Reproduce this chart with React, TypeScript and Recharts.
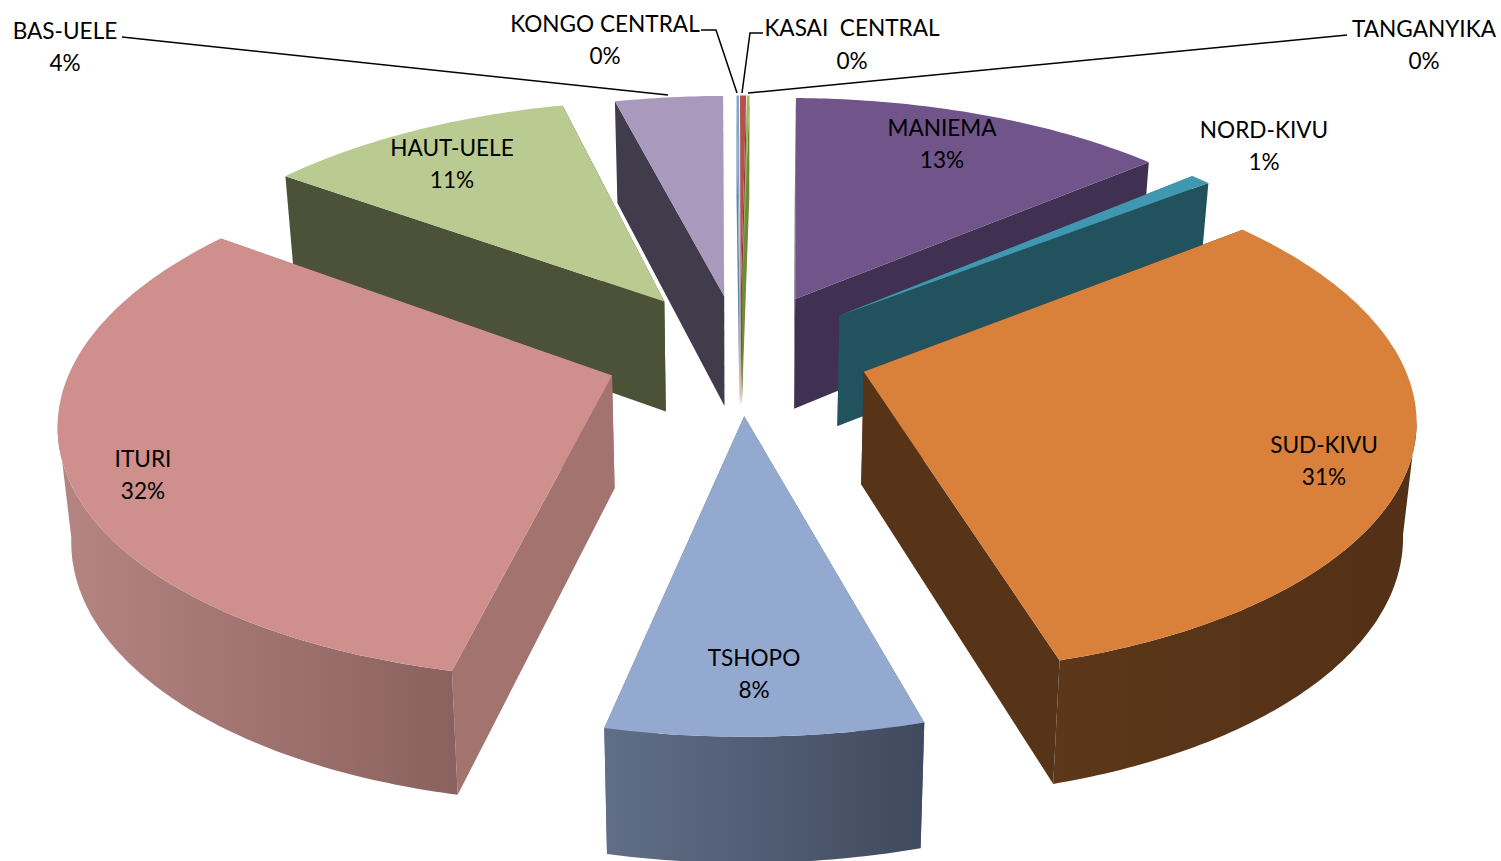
import { PieChart, Pie } from "recharts";

const NAMES = [
  "HAUT-UELE", "BAS-UELE", "KONGO CENTRAL", "KASAI  CENTRAL", "TANGANYIKA",
  "MANIEMA", "NORD-KIVU", "SUD-KIVU", "TSHOPO", "ITURI",
];
const VALUES = [11.03, 3.86, 0.09, 0.22, 0.08, 13.48, 0.72, 31.15, 7.77, 31.6];
const TOP_COLORS = [
  "#b9cb90", "#a899bd", "#7fa6d0", "#b4504d", "#9bbb59",
  "#70548a", "#4098b0", "#d9803a", "#93a9cf", "#ce8f8d",
];
const WALL_COLORS = [
  "#4c5238", "#413c4b", "#5f86ad", "#8a3b39", "#6f8a3a",
  "#403052", "#22525e", "#573318", "#5b6a85", "#a3736f",
];
// outer rim shading, left to right
const RIM_LEFT = ["#4c5238", "#413c4b", "#5f86ad", "#8a3b39", "#6f8a3a", "#403052", "#22525e", "#5c3719", "#606e87", "#b58582"];
const RIM_RIGHT = ["#4c5238", "#413c4b", "#5f86ad", "#8a3b39", "#6f8a3a", "#403052", "#22525e", "#533016", "#404a5e", "#8a615e"];
// how far each slice is pulled out, in pie radii
const EXPLODE = [0.26, 0.24, 0.24, 0.24, 0.24, 0.25, 0.245, 0.24, 0.245, 0.252];

// label centre x, first line y, second line y, optional leader polyline
const LABEL_LAYOUT: Record<string, { x: number; y1: number; y2: number; line?: string }> = {
  "HAUT-UELE": { x: 452, y1: 147, y2: 179 },
  "BAS-UELE": { x: 65, y1: 30, y2: 62, line: "122,37 668,95" },
  "KONGO CENTRAL": { x: 605, y1: 23, y2: 55, line: "701,30 716,30 737,93" },
  "KASAI  CENTRAL": { x: 852, y1: 27, y2: 60, line: "763,33 750,33 742,93" },
  TANGANYIKA: { x: 1424, y1: 28, y2: 60, line: "1347,35 748,93" },
  MANIEMA: { x: 942, y1: 127, y2: 159 },
  "NORD-KIVU": { x: 1264, y1: 129, y2: 161 },
  "SUD-KIVU": { x: 1324, y1: 444, y2: 476 },
  TSHOPO: { x: 754, y1: 657, y2: 689 },
  ITURI: { x: 143, y1: 458, y2: 490 },
};

const data = NAMES.map((name, i) => ({ name, value: VALUES[i], index: i }));

const WIDTH = 1501;
const HEIGHT = 861;
const CX = 740;
const CY = 353;
const RX = 536; // horizontal scale of the tilted disc
const RY = 248; // vertical scale
const PERSP = 0.157; // front of the pie is nearer
const DEPTH = 112;
const BASE_SHRINK = 0.98;

const rad = (d: number) => (d * Math.PI) / 180;

// u to the right, v towards the viewer, both in pie radii
function project(u: number, v: number, bottom = false) {
  const w = 1 / (1 - PERSP * v);
  const x = CX + RX * u * w;
  const y = CY + RY * v * w;
  if (!bottom) return [x, y];
  return [CX + (x - CX) * BASE_SHRINK, y + DEPTH * Math.pow(w, 0.55)];
}

const toPath = (pts: number[][]) =>
  "M" + pts.map((p) => `${p[0].toFixed(1)},${p[1].toFixed(1)}`).join("L") + "Z";

function Slice3D(props: any) {
  const { startAngle, endAngle, midAngle, index, fill } = props;
  // recharts angles run counter-clockwise from 3 o'clock; work clockwise from the top
  const a0 = 90 - startAngle;
  const a1 = 90 - endAngle;
  const mid = midAngle !== undefined ? 90 - midAngle : (a0 + a1) / 2;
  const ou = EXPLODE[index] * Math.sin(rad(mid));
  const ov = -EXPLODE[index] * Math.cos(rad(mid));
  const rim = (a: number, bottom = false) =>
    project(ou + Math.sin(rad(a)), ov - Math.cos(rad(a)), bottom);
  const apex = project(ou, ov);
  const apexB = project(ou, ov, true);

  const arc: number[][] = [];
  const steps = Math.max(2, Math.ceil((a1 - a0) / 0.75));
  for (let i = 0; i <= steps; i++) arc.push(rim(a0 + ((a1 - a0) * i) / steps));

  // outer wall only on the part of the rim facing the viewer
  const front: number[] = [];
  for (let i = 0; i <= steps; i++) {
    const a = a0 + ((a1 - a0) * i) / steps;
    const n = ((a % 360) + 360) % 360;
    if (n >= 100 && n <= 260) front.push(a);
  }
  const wallTop = front.map((a) => rim(a));
  const wallBot = front.map((a) => rim(a, true)).reverse();
  const gid = `rim-${index}`;

  return (
    <g>
      <defs>
        <linearGradient id={gid} x1="0" y1="0" x2="1" y2="0">
          <stop offset="0%" stopColor={RIM_LEFT[index]} />
          <stop offset="100%" stopColor={RIM_RIGHT[index]} />
        </linearGradient>
      </defs>
      <path d={toPath([apex, rim(a0), rim(a0, true), apexB])} fill={WALL_COLORS[index]} />
      <path d={toPath([apex, rim(a1), rim(a1, true), apexB])} fill={WALL_COLORS[index]} />
      {front.length > 1 && <path d={toPath([...wallTop, ...wallBot])} fill={`url(#${gid})`} />}
      <path d={toPath([apex, ...arc])} fill={fill} />
    </g>
  );
}

function SliceLabel(props: any) {
  const { name, percent } = props;
  const pos = LABEL_LAYOUT[name];
  if (!pos) return null;
  const style = { fontFamily: "Lato", fontSize: 22.6, fill: "#000", whiteSpace: "pre" as const };
  return (
    <g>
      {pos.line && <polyline points={pos.line} fill="none" stroke="#000" strokeWidth={1.5} />}
      <text x={pos.x} y={pos.y1} textAnchor="middle" dominantBaseline="central" style={style}>
        {name}
      </text>
      <text x={pos.x} y={pos.y2} textAnchor="middle" dominantBaseline="central" style={style}>
        {`${Math.round(percent * 100)}%`}
      </text>
    </g>
  );
}

export default function App() {
  const table = data.map((d) => ({ ...d, fill: TOP_COLORS[d.index] }));
  return (
    <div style={{ position: "absolute", left: 0, top: 0, width: WIDTH, height: HEIGHT, background: "#fff" }}>
      <PieChart width={WIDTH} height={HEIGHT} margin={{ top: 0, right: 0, bottom: 0, left: 0 }}>
        <Pie
          data={table}
          dataKey="value"
          nameKey="name"
          cx={CX}
          cy={CY}
          innerRadius={0}
          outerRadius={RY}
          startAngle={-216}
          endAngle={-576}
          paddingAngle={0}
          stroke="none"
          isAnimationActive={false}
          shape={Slice3D}
          label={SliceLabel}
          labelLine={false}
        />
      </PieChart>
    </div>
  );
}
